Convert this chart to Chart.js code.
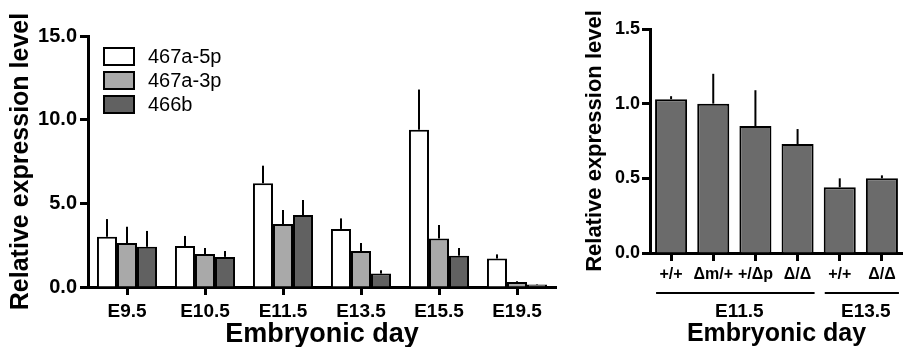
<!DOCTYPE html>
<html>
<head>
<meta charset="utf-8">
<script src="https://cdn.jsdelivr.net/npm/chart.js@4.4.1/dist/chart.umd.min.js"></script>
<style>
  html, body { margin: 0; padding: 0; background: #ffffff; }
  body { width: 903px; height: 347px; position: relative; overflow: hidden; }
  #left { position: absolute; left: 0; top: 0; }
  #right { position: absolute; left: 580px; top: 0; }
</style>
</head>
<body>
<canvas id="left" width="570" height="347"></canvas>
<canvas id="right" width="323" height="347"></canvas>
<script>
// ---------- Left panel data ----------
const dayLabels = ['E9.5', 'E10.5', 'E11.5', 'E13.5', 'E15.5', 'E19.5'];
const seriesNames = ['467a-5p', '467a-3p', '466b'];
const mir467a5p = [3.0, 2.45, 6.2, 3.47, 9.4, 1.7];
const mir467a5pErr = [1.06, 0.6, 1.05, 0.63, 2.4, 0.25];
const mir467a3p = [2.63, 1.97, 3.77, 2.15, 2.9, 0.3];
const mir467a3pErr = [0.97, 0.36, 0.83, 0.48, 0.8, 0.05];
const mir466b = [2.4, 1.8, 4.3, 0.8, 1.87, 0.15];
const mir466bErr = [0.95, 0.35, 0.9, 0.2, 0.46, 0.03];
const leftTicks = [0, 5, 10, 15];

// ---------- Right panel data ----------
const genotypes = ['+/+', 'Δm/+', '+/Δp', 'Δ/Δ', '+/+', 'Δ/Δ'];
const genoValues = [1.03, 1.0, 0.85, 0.73, 0.44, 0.5];
const genoErr = [0.02, 0.2, 0.24, 0.1, 0.06, 0.02];
const stageNames = ['E11.5', 'E13.5'];
const stageFirst = [0, 4];
const stageLast = [3, 5];
const rightTicks = [0, 0.5, 1.0, 1.5];

const FONT = '"Liberation Sans", Arial, Helvetica, sans-serif';
Chart.defaults.font.family = FONT;
Chart.defaults.color = '#000';

const errorBarPlugin = {
  id: 'errorBars',
  afterDatasetsDraw(chart) {
    const ctx = chart.ctx;
    const yScale = chart.scales.y;
    ctx.save();
    ctx.strokeStyle = '#000';
    ctx.lineWidth = 2;
    chart.data.datasets.forEach((ds, di) => {
      const meta = chart.getDatasetMeta(di);
      meta.data.forEach((bar, i) => {
        const v = ds.data[i];
        const e = ds.errors[i];
        const y0 = yScale.getPixelForValue(v);
        const y1 = yScale.getPixelForValue(v + e);
        ctx.beginPath();
        ctx.moveTo(bar.x, y0);
        ctx.lineTo(bar.x, y1);
        ctx.stroke();
      });
    });
    ctx.restore();
  }
};

const legendPlugin = {
  id: 'boxLegend',
  afterDraw(chart) {
    const ctx = chart.ctx;
    const a = chart.chartArea;
    ctx.save();
    ctx.font = '20px ' + FONT;
    ctx.textBaseline = 'alphabetic';
    chart.data.datasets.forEach((ds, i) => {
      const bx = a.left + 16;
      const by = a.top + 12 + i * 24;
      ctx.fillStyle = ds.backgroundColor;
      ctx.fillRect(bx, by, 30, 17);
      ctx.strokeStyle = '#000';
      ctx.lineWidth = 2;
      ctx.strokeRect(bx, by, 30, 17);
      ctx.fillStyle = '#000';
      ctx.fillText(ds.label, bx + 44, by + 15);
    });
    ctx.restore();
  }
};

const groupPlugin = {
  id: 'stageGroups',
  afterDraw(chart) {
    const ctx = chart.ctx;
    const x = chart.scales.x;
    ctx.save();
    ctx.strokeStyle = '#000';
    ctx.lineWidth = 2;
    ctx.fillStyle = '#000';
    ctx.font = 'bold 19px ' + FONT;
    ctx.textAlign = 'center';
    ctx.textBaseline = 'alphabetic';
    stageNames.forEach((name, g) => {
      const x0 = x.getPixelForValue(stageFirst[g]) - 15;
      const x1 = Math.min(x.getPixelForValue(stageLast[g]) + 17, chart.width);
      ctx.beginPath();
      ctx.moveTo(x0, 293);
      ctx.lineTo(x1, 293);
      ctx.stroke();
      ctx.fillText(name, (x0 + x1) / 2 + 4, 317);
    });
    ctx.restore();
  }
};

function axisCommon() {
  return {
    border: { display: true, color: '#000', width: 3 },
    grid: { display: true, drawOnChartArea: false, drawTicks: true, tickLength: 8, tickWidth: 3, tickColor: '#000', offset: false }
  };
}

// ---------- Left chart ----------
new Chart(document.getElementById('left'), {
  type: 'bar',
  data: {
    labels: dayLabels,
    datasets: [
      { label: seriesNames[0], data: mir467a5p, errors: mir467a5pErr, backgroundColor: '#ffffff', borderColor: '#000', borderWidth: 2 },
      { label: seriesNames[1], data: mir467a3p, errors: mir467a3pErr, backgroundColor: '#a9a9a9', borderColor: '#000', borderWidth: 2 },
      { label: seriesNames[2], data: mir466b, errors: mir466bErr, backgroundColor: '#616161', borderColor: '#000', borderWidth: 2 }
    ]
  },
  options: {
    responsive: false,
    animation: false,
    devicePixelRatio: 1,
    categoryPercentage: 0.77,
    barPercentage: 1.0,
    layout: { padding: { top: 36, right: 14, left: 0, bottom: 0 } },
    plugins: { legend: { display: false }, tooltip: { enabled: false } },
    scales: {
      x: Object.assign(axisCommon(), {
        ticks: { font: { size: 19, weight: 'bold' }, padding: 5, color: '#000' },
        title: { display: true, text: 'Embryonic day', font: { size: 27, weight: 'bold' }, padding: { top: 0, bottom: -4 }, color: '#000' },
        afterFit(s) { s.height = 60; }
      }),
      y: Object.assign(axisCommon(), {
        min: 0, max: 15,
        afterBuildTicks(s) { s.ticks = leftTicks.map(v => ({ value: v })); },
        ticks: { font: { size: 20, weight: 'bold' }, padding: 3, color: '#000', callback: v => Number(v).toFixed(1) },
        title: { display: true, text: 'Relative expression level', font: { size: 25, weight: 'bold' }, padding: { top: 6, bottom: 0 }, color: '#000' },
        afterFit(s) { s.width = 88; }
      })
    }
  },
  plugins: [errorBarPlugin, legendPlugin]
});

// ---------- Right chart ----------
new Chart(document.getElementById('right'), {
  type: 'bar',
  data: {
    labels: genotypes,
    datasets: [
      { label: 'Relative expression', data: genoValues, errors: genoErr, backgroundColor: '#6b6b6b', borderColor: '#000', borderWidth: 2 }
    ]
  },
  options: {
    responsive: false,
    animation: false,
    devicePixelRatio: 1,
    categoryPercentage: 1.0,
    barPercentage: 0.76,
    layout: { padding: { top: 29, right: 0, left: 0, bottom: 0 } },
    plugins: { legend: { display: false }, tooltip: { enabled: false } },
    scales: {
      x: Object.assign(axisCommon(), {
        ticks: { font: { size: 16, weight: 'bold' }, padding: 4, color: '#000', autoSkip: false, maxRotation: 0 },
        title: { display: true, text: 'Embryonic day', font: { size: 25, weight: 'bold' }, padding: { top: 0, bottom: -2 }, color: '#000' },
        afterFit(s) { s.height = 94; }
      }),
      y: Object.assign(axisCommon(), {
        min: 0, max: 1.5,
        afterBuildTicks(s) { s.ticks = rightTicks.map(v => ({ value: v })); },
        ticks: { font: { size: 18, weight: 'bold' }, padding: 2, color: '#000', callback: v => Number(v).toFixed(1) },
        title: { display: true, text: 'Relative expression level', font: { size: 22, weight: 'bold' }, padding: { top: 2, bottom: 0 }, color: '#000' },
        afterFit(s) { s.width = 70; }
      })
    }
  },
  plugins: [errorBarPlugin, groupPlugin]
});
</script>
</body>
</html>
